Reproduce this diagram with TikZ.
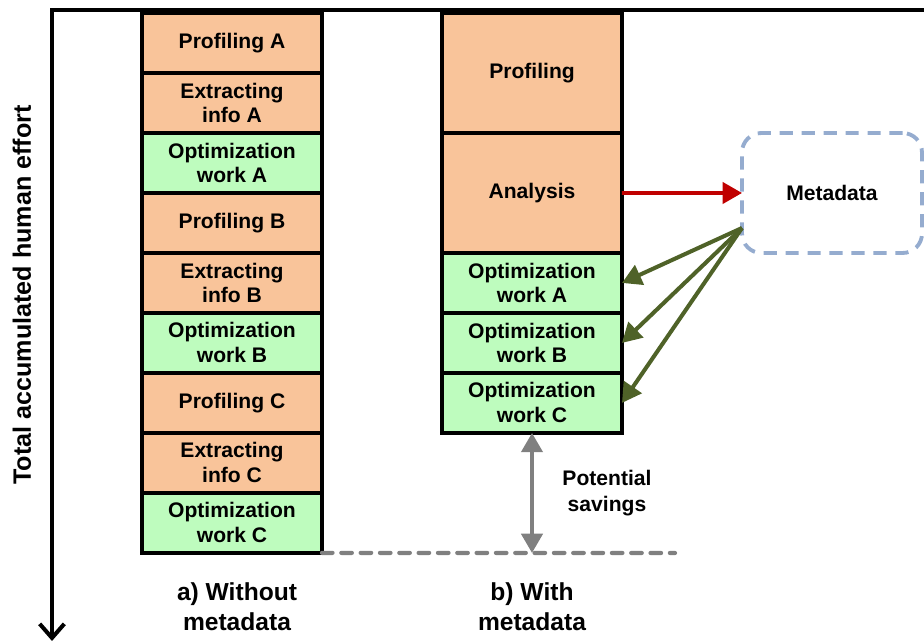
\documentclass[tikz,border=0pt]{standalone}
\usepackage{fontspec}
\setmainfont{Liberation Sans}
\usetikzlibrary{arrows.meta,positioning}
\definecolor{orangefill}{RGB}{249,196,154}
\definecolor{greenfill}{RGB}{190,252,190}
\definecolor{metablue}{RGB}{149,172,207}
\definecolor{darkred}{RGB}{192,0,0}
\definecolor{olive}{RGB}{79,98,40}
\definecolor{savegray}{RGB}{128,128,128}
\tikzset{
  work/.style={draw,line width=2.2pt,minimum width=3.6cm,minimum height=1.2cm,inner sep=0pt,outer sep=0pt,
    align=center,font=\fontsize{12}{14.2}\selectfont\bfseries},
  prof/.style={work,fill=orangefill},
  opt/.style={work,fill=greenfill},
  tall/.style={minimum height=2.4cm},
  meta/.style={draw=metablue,line width=2.2pt,dash pattern=on 7.5pt off 5pt,rounded corners=11pt,outer sep=0pt,
    minimum width=3.6cm,minimum height=2.4cm,font=\fontsize{12}{14}\selectfont\bfseries},
  axis/.style={line width=2.3pt,-{Straight Barb[length=8pt,width=14pt]}},
  redarr/.style={line width=2.1pt,darkred,-{Triangle[length=11pt,width=12pt]}},
  greenarr/.style={line width=2.3pt,olive,-{Triangle[length=11pt,width=12pt]}},
  savearr/.style={line width=2.4pt,savegray,{Triangle[length=11pt,width=12pt]}-{Triangle[length=11pt,width=12pt]}},
  caption/.style={align=center,font=\fontsize{14}{17}\selectfont\bfseries},
}
\begin{document}
\begin{tikzpicture}[x=0.02cm,y=-0.02cm]
  \useasboundingbox (0,0) rectangle (924,644);
  \draw[axis] (924,10) -- (52,10) -- (52,641);
  \node[rotate=90,font=\fontsize{14.3}{16}\selectfont\bfseries] (ylab) at (22,295) {Total accumulated human effort};

  \node[prof] (profA) at (232,43) {Profiling A};
  \node[prof,below=0pt of profA] (extrA) {Extracting\\info A};
  \node[opt,below=0pt of extrA] (optA) {Optimization\\work A};
  \node[prof,below=0pt of optA] (profB) {Profiling B};
  \node[prof,below=0pt of profB] (extrB) {Extracting\\info B};
  \node[opt,below=0pt of extrB] (optB) {Optimization\\work B};
  \node[prof,below=0pt of optB] (profC) {Profiling C};
  \node[prof,below=0pt of profC] (extrC) {Extracting\\info C};
  \node[opt,below=0pt of extrC] (optC) {Optimization\\work C};

  \node[prof,tall] (prof) at (532,73) {Profiling};
  \node[prof,tall,below=0pt of prof] (anal) {Analysis};
  \node[opt,below=0pt of anal] (wA) {Optimization\\work A};
  \node[opt,below=0pt of wA] (wB) {Optimization\\work B};
  \node[opt,below=0pt of wB] (wC) {Optimization\\work C};

  \node[meta] (meta) at (832,193) {Metadata};
  \draw[redarr] (anal.east) -- (meta.west);
  \coordinate (src) at (742,228);
  \foreach \n in {wA,wB,wC}
    \draw[greenarr] (src) -- (\n.east);

  \coordinate (dashend) at (675,553);
  \coordinate (savebot) at (532,553);
  \draw[savegray,line width=2.4pt,line cap=round,dash pattern=on 6pt off 5pt] (optC.south east) -- (dashend);
  \draw[savearr] (wC.south) -- (savebot);
  \node[align=center,font=\fontsize{12}{14.5}\selectfont\bfseries] (savings) at (607,493) {Potential\\savings};

  \node[caption] (capA) at (237,607) {a) Without\\metadata};
  \node[caption] (capB) at (532,607) {b) With\\metadata};
\end{tikzpicture}
\end{document}
